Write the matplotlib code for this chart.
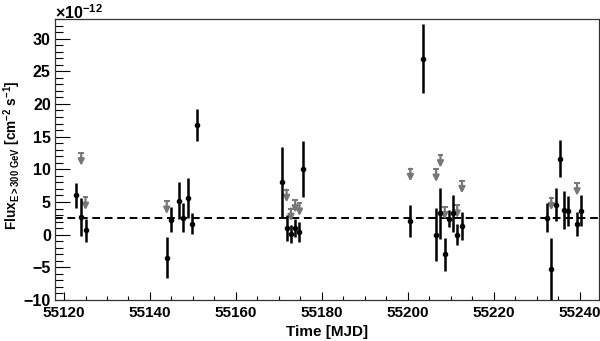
import matplotlib
matplotlib.use("Agg")
import matplotlib.pyplot as plt
from matplotlib.ticker import MultipleLocator

# ---- data ----
det_t = [55122.9, 55124.0, 55125.0, 55143.9, 55144.9, 55146.8, 55147.8, 55148.8, 55149.8,
         55150.9, 55170.8, 55171.8, 55172.8, 55173.8, 55174.8, 55175.7, 55200.6, 55203.6,
         55206.6, 55207.6, 55208.6, 55209.6, 55210.5, 55211.5, 55212.6, 55232.5, 55233.4,
         55234.4, 55235.4, 55236.4, 55237.4, 55239.4, 55240.4]
flux = [6.0, 2.7, 0.65, -3.5, 2.3, 5.2, 2.6, 5.6, 1.7, 16.8, 8.0, 1.0, 0.1, 1.05, 0.45, 10.1,
        2.1, 26.9, 0.0, 3.25, -3.0, 2.4, 3.25, 0.0, 1.35, 2.6, -5.3, 4.6, 11.65, 3.75, 3.6,
        1.6, 3.65]
flux_err = [1.9, 2.95, 1.75, 3.15, 1.9, 2.85, 2.2, 3.05, 1.65, 2.45, 5.4, 1.95, 1.4, 1.4, 1.5,
            4.3, 2.4, 5.3, 4.05, 3.9, 2.55, 1.3, 2.8, 1.65, 2.15, 2.2, 4.8, 2.5, 2.9, 2.95,
            2.35, 1.8, 2.35]
ul_t = [55124.0, 55125.0, 55143.9, 55171.8, 55172.8, 55173.8, 55174.8, 55200.6, 55206.6,
        55207.6, 55208.6, 55211.5, 55212.6, 55233.4, 55239.4]
ul_flux = [12.5, 5.7, 5.1, 6.9, 4.0, 5.3, 4.8, 10.1, 10.0, 12.2, 4.25, 4.5, 8.25, 5.65, 7.9]
mean_flux = 2.5

plt.rcParams['font.family'] = ['Liberation Sans', 'DejaVu Sans']
plt.rcParams['font.weight'] = 'bold'
plt.rcParams['mathtext.fontset'] = 'custom'
plt.rcParams['mathtext.rm'] = 'Liberation Sans:bold'
plt.rcParams['mathtext.bf'] = 'Liberation Sans:bold'
plt.rcParams['mathtext.it'] = 'Liberation Sans:bold:italic'
plt.rcParams['mathtext.default'] = 'rm'

fig = plt.figure(figsize=(6.0, 3.41), dpi=100)
ax = fig.add_axes([55/600, 1 - 300/341, 544/600, 281/341])

grey = '#777777'
arrow_len = 1.95
cap_x = 0.65
for t, u in zip(ul_t, ul_flux):
    ax.annotate('', xy=(t, u - arrow_len), xytext=(t, u),
                arrowprops=dict(arrowstyle='-|>', color=grey, lw=1.6,
                                mutation_scale=9, shrinkA=0, shrinkB=0),
                zorder=2)
    ax.plot([t - cap_x, t + cap_x], [u, u], color=grey, lw=1.4, zorder=2,
            solid_capstyle='butt')

ax.axhline(mean_flux, color='black', lw=1.4, dashes=(4.0, 2.4), zorder=1)

ax.errorbar(det_t, flux, yerr=flux_err, fmt='o', color='black', ms=3,
            elinewidth=1.8, capsize=0, zorder=3)

ax.set_xlim(55117.9, 55244.5)
ax.set_ylim(-10, 33)
ax.xaxis.set_major_locator(MultipleLocator(20))
ax.xaxis.set_minor_locator(MultipleLocator(5))
ax.yaxis.set_major_locator(MultipleLocator(5))
ax.yaxis.set_minor_locator(MultipleLocator(1))
ax.tick_params(axis='y', which='major', direction='in', length=10.8, width=0.8,
               labelsize=11.5, pad=3)
ax.tick_params(axis='y', which='minor', direction='in', length=5.6, width=0.8)
ax.tick_params(axis='x', which='major', direction='in', length=6, width=0.8,
               labelsize=11, pad=4)
ax.tick_params(axis='x', which='minor', direction='in', length=3, width=0.8)
for lab in ax.get_xticklabels() + ax.get_yticklabels():
    lab.set_fontweight('bold')
for s in ax.spines.values():
    s.set_linewidth(0.9)
    s.set_color('#333333')

ax.set_xlabel('Time [MJD]', fontsize=11, fontweight='bold', labelpad=4)
ax.set_ylabel(r'Flux$_{\mathrm{E>300\ GeV}}$ [cm$^{-2}$ s$^{-1}$]', fontsize=9.8,
              fontweight='bold')
ax.yaxis.set_label_coords(-0.059, 0.516)
fig.text(55/600, 1 - 3/341, r'$\times$10$^{-12}$', fontsize=11.5, fontweight='bold',
         ha='left', va='top')

fig.savefig('out.png', dpi=100)
